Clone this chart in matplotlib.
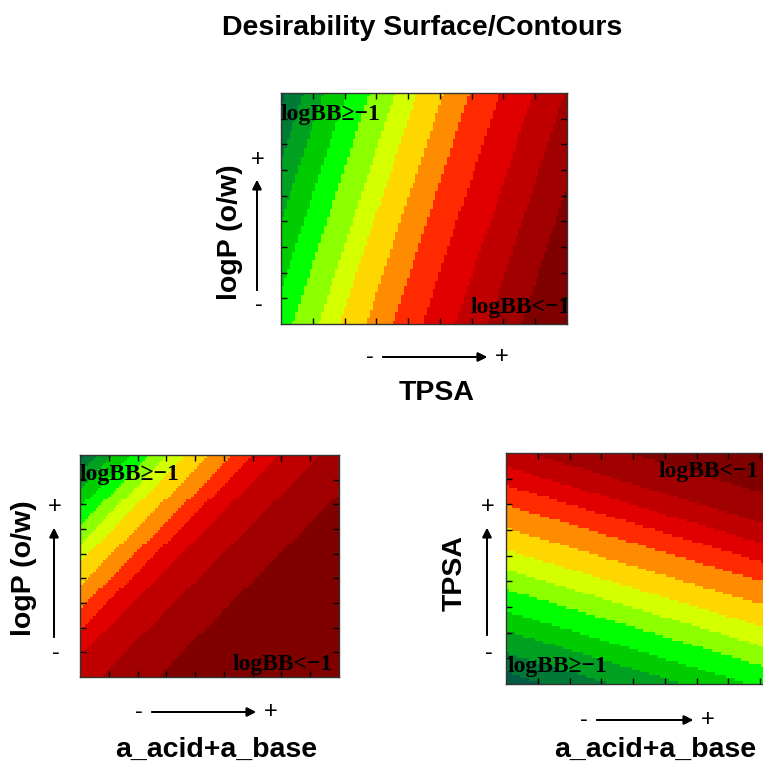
import numpy as np
import matplotlib.pyplot as plt
from matplotlib.colors import ListedColormap, BoundaryNorm

W, H = 763, 766

title = "Desirability Surface/Contours"

# desirability colour steps, best (green) to worst (dark red)
band_colors = ['#005c45', '#007a35', '#00a020', '#00cc00', '#00ff00', '#8cff00', '#d4ff00',
               '#ffd700', '#ff8c00', '#ff2a00', '#e00000', '#c00000', '#a00000', '#800000']

# each surface is a tilted plane z = a*x + b*y + c over the unit square,
# cut into bands at the contour levels
top_coef = [1.0, -0.27, 0.0]
top_levels = [-0.256, -0.19, -0.12, -0.04, 0.04, 0.13, 0.205, 0.298, 0.39, 0.495, 0.612, 0.723, 0.84]

bl_coef = [1.0, -0.85, 0.85]
bl_levels = [0.02, 0.07, 0.13, 0.2, 0.27, 0.34, 0.41, 0.5, 0.59, 0.67, 0.77, 0.93, 1.15]

br_coef = [0.37, 1.0, 0.0]
br_levels = [0.05, 0.135, 0.23, 0.315, 0.41, 0.495, 0.58, 0.675, 0.775, 0.86, 0.94, 1.03, 1.16]

good_txt = 'logBB\u2265\u22121'
bad_txt = 'logBB<\u22121'

cmap = ListedColormap(band_colors)


def fx(px):
    return px / W


def fy(py):
    return 1 - py / H


def surface_panel(left, top, right, bottom, coef, levels):
    ax = fig.add_axes([fx(left), fy(bottom), (right - left) / W, (bottom - top) / H])
    xe = np.linspace(0, 1, 101)
    ye = np.linspace(0, 1, 81)
    xc = (xe[:-1] + xe[1:]) / 2
    yc = (ye[:-1] + ye[1:]) / 2
    X, Y = np.meshgrid(xc, yc)
    Z = coef[0] * X + coef[1] * Y + coef[2]
    norm = BoundaryNorm([-10] + levels + [10], cmap.N)
    ax.pcolormesh(xe, ye, Z, cmap=cmap, norm=norm)
    ax.set_xlim(0, 1)
    ax.set_ylim(0, 1)
    ax.set_xticks(np.arange(1, 9) / 9)
    ax.set_yticks(np.arange(1, 9) / 9)
    ax.tick_params(direction='in', length=4, width=1, top=True, right=True,
                   labelbottom=False, labelleft=False, color='black')
    for s in ax.spines.values():
        s.set_color('#333333')
        s.set_linewidth(1.0)
    return ax


def panel_text(ax, x, y, s, ha):
    ax.text(x, y, s, transform=ax.transAxes, ha=ha, va='center',
            fontfamily=['Liberation Serif', 'DejaVu Serif'], fontweight='bold',
            fontsize=17, color='black', clip_on=True)


def h_arrow(x0, x1, y):
    fig.text(fx(x0 - 13), fy(y), '-', ha='center', va='center', fontsize=17, fontfamily='Liberation Sans')
    fig.text(fx(x1 + 15), fy(y), '+', ha='center', va='center', fontsize=17, fontfamily='Liberation Sans')
    fig.add_artist(plt.annotate('', xy=(fx(x1), fy(y)), xytext=(fx(x0), fy(y)),
                                xycoords='figure fraction', textcoords='figure fraction',
                                arrowprops=dict(arrowstyle='-|>', color='black', lw=1.4,
                                                mutation_scale=13, shrinkA=0, shrinkB=0)))


def v_arrow(x, y0, y1, plus_y, minus_y):
    fig.text(fx(x + 1), fy(plus_y), '+', ha='center', va='center', fontsize=17, fontfamily='Liberation Sans')
    fig.text(fx(x + 2), fy(minus_y), '-', ha='center', va='center', fontsize=17, fontfamily='Liberation Sans')
    fig.add_artist(plt.annotate('', xy=(fx(x), fy(y1)), xytext=(fx(x), fy(y0)),
                                xycoords='figure fraction', textcoords='figure fraction',
                                arrowprops=dict(arrowstyle='-|>', color='black', lw=1.4,
                                                mutation_scale=13, shrinkA=0, shrinkB=0)))


fig = plt.figure(figsize=(W / 100, H / 100), dpi=100)
bold = dict(fontfamily='Liberation Sans', fontweight='bold', fontsize=20.5)

fig.text(fx(422), fy(28), title, ha='center', va='center', **bold)

# top: logP vs TPSA
ax1 = surface_panel(281, 93, 567, 324, top_coef, top_levels)
panel_text(ax1, -0.003, 0.905, good_txt, 'left')
panel_text(ax1, 1.012, 0.07, bad_txt, 'right')
h_arrow(383, 487, 357)
fig.text(fx(437), fy(393), 'TPSA', ha='center', va='center', **bold)
v_arrow(257, 290, 180, 160, 305)
fig.text(fx(230), fy(232), 'logP (o/w)', ha='center', va='center', rotation=90, **bold)

# bottom left: logP vs a_acid+a_base
ax2 = surface_panel(80, 455, 339, 677, bl_coef, bl_levels)
panel_text(ax2, 0.0, 0.91, good_txt, 'left')
panel_text(ax2, 0.975, 0.055, bad_txt, 'right')
h_arrow(152, 256, 712)
fig.text(fx(216), fy(750), 'a_acid+a_base', ha='center', va='center', **bold)
v_arrow(54, 637, 528, 507, 653)
fig.text(fx(24), fy(568), 'logP (o/w)', ha='center', va='center', rotation=90, **bold)

# bottom right: TPSA vs a_acid+a_base (runs past the edge)
ax3 = surface_panel(506, 453, 792, 684, br_coef, br_levels)
panel_text(ax3, 0.535, 0.918, bad_txt, 'left')
panel_text(ax3, 0.004, 0.074, good_txt, 'left')
h_arrow(597, 693, 720)
fig.text(fx(655), fy(750), 'a_acid+a_base', ha='center', va='center', **bold)
v_arrow(487, 635, 528, 507, 653)
fig.text(fx(455), fy(573), 'TPSA', ha='center', va='center', rotation=90, **bold)

fig.savefig('out.png', dpi=100)
